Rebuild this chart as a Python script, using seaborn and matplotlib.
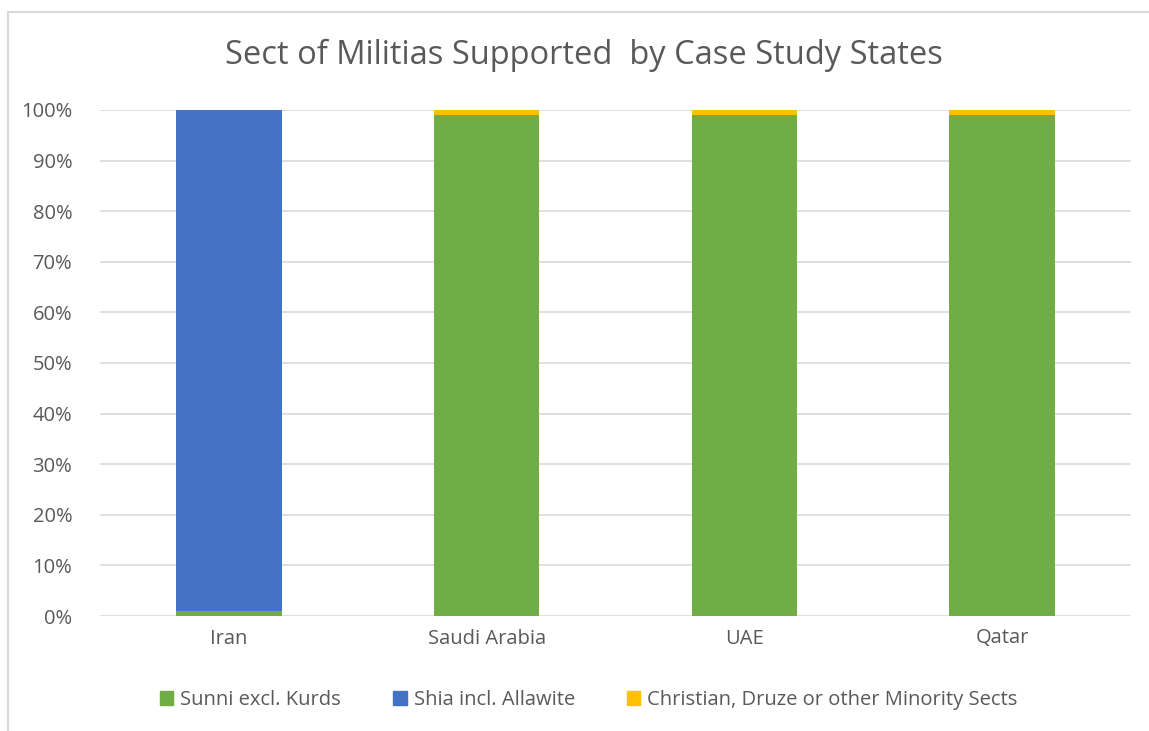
import matplotlib
matplotlib.use("Agg")
import matplotlib.pyplot as plt
import matplotlib.patches as mpatches
import numpy as np
import pandas as pd
import seaborn as sns

states = ["Iran", "Saudi Arabia", "UAE", "Qatar"]
sunni = [1, 99, 99, 99]
shia = [99, 0, 0, 0]
minority = [0, 1, 1, 1]
series_names = ["Sunni excl. Kurds", "Shia incl. Allawite",
                "Christian, Druze or other Minority Sects"]
colors = ["#70ad47", "#4472c4", "#ffc000"]
yticks = [0, 10, 20, 30, 40, 50, 60, 70, 80, 90, 100]

sns.set_theme(style="white")
plt.rcParams["font.family"] = ["Open Sans", "DejaVu Sans"]
text_color = "#595959"
grid_color = "#d9d9d9"

fig = plt.figure(figsize=(11.49, 7.31), dpi=100)
ax = fig.add_axes([100 / 1149, 1 - 616 / 731, 1031 / 1149, 506 / 731])

df = pd.DataFrame({"state": states, "sunni": sunni, "shia": shia,
                   "minority": minority})
bottoms = np.zeros(len(states))
for col, color in zip(["sunni", "shia", "minority"], colors):
    sns.barplot(data=df, x="state", y=col, color=color, width=0.41,
                bottom=bottoms.copy(), ax=ax, saturation=1, zorder=3,
                linewidth=0, edgecolor="none")
    bottoms = bottoms + df[col].to_numpy()

ax.set_xlim(-0.5, len(states) - 0.5)
ax.set_ylim(0, 100)
ax.set_yticks(yticks)
ax.set_yticklabels([f"{v}%" for v in yticks])
ax.set_xlabel("")
ax.set_ylabel("")
ax.tick_params(axis="both", length=0, labelsize=14.5, colors=text_color)
ax.tick_params(axis="y", pad=20)
ax.tick_params(axis="x", pad=9)
for s in ax.spines.values():
    s.set_visible(False)
for v in yticks:
    ax.axhline(v, color=grid_color, lw=1.2, zorder=1)

fig.text(584 / 1149, 1 - 55 / 731, "Sect of Militias Supported  by Case Study States",
         ha="center", va="center", fontsize=23.5, color=text_color)

handles = [mpatches.Patch(color=c, label=n) for c, n in zip(colors, series_names)]
fig.legend(handles=handles, loc="center", ncol=3,
           bbox_to_anchor=(589 / 1149, 1 - 700 / 731), frameon=False,
           fontsize=14.5, labelcolor=text_color, handlelength=0.65,
           handleheight=0.65, handletextpad=0.35, columnspacing=2.6)

# chart area border
fig.patches.append(mpatches.Rectangle((7.5 / 1149, -0.05), 1.2, 1 - 11.5 / 731 + 0.05,
                                      transform=fig.transFigure, fill=False,
                                      edgecolor=grid_color, lw=1.5))

fig.savefig("out.png", dpi=100, facecolor="white")
